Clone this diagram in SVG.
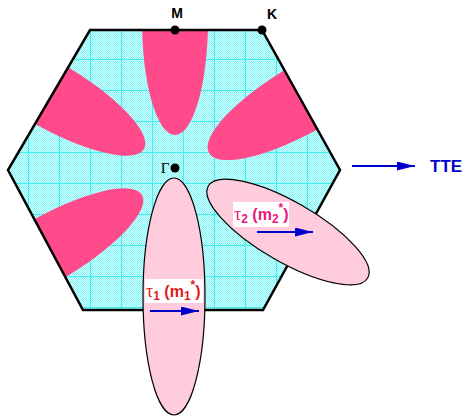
<svg xmlns="http://www.w3.org/2000/svg" width="465" height="417" viewBox="0 0 465 417">
<style>
.lobe{fill:#ff4b8b}
.pocket{fill:#ffccdd;stroke:#000;stroke-width:1.2}
.lbl{font-family:"Liberation Sans",Arial,sans-serif;font-weight:bold}
.sym{font-family:"Liberation Serif","Times New Roman",serif;font-weight:normal}
.arr{stroke:#0000cc;stroke-width:2;fill:none}
.box{fill:#fff}
</style>
<defs>
<pattern id="dots" width="2" height="2" patternUnits="userSpaceOnUse">
<rect width="2" height="2" fill="#d8ffff"/>
<rect width="1" height="1" fill="#7ff5f5"/>
<rect x="1" y="1" width="1" height="1" fill="#7ff5f5"/>
</pattern>
<pattern id="grid" x="28" y="28" width="31" height="31" patternUnits="userSpaceOnUse">
<path d="M0.5 0V31M0 0.5H31" stroke="#40f0f0" stroke-width="1"/>
</pattern>
<clipPath id="hexclip"><polygon points="90,30 262,30 340,170 263,310 83,310 8,170"/></clipPath>
<marker id="ah" viewBox="0 0 10 10" refX="10" refY="5" markerWidth="18" markerHeight="9" markerUnits="userSpaceOnUse" orient="auto" preserveAspectRatio="none">
<path d="M0 0L10 5L0 10z" fill="#0000cc"/>
</marker>
</defs>

<g id="zone">
<polygon points="90,30 262,30 340,170 263,310 83,310 8,170" fill="url(#dots)"/>
<rect x="0" y="0" width="465" height="417" fill="url(#grid)" clip-path="url(#hexclip)"/>
<g clip-path="url(#hexclip)">
<ellipse class="lobe" cx="175" cy="20" rx="33" ry="115"/>
<ellipse class="lobe" cx="175" cy="20" rx="34" ry="115" transform="translate(209 153) rotate(60) translate(-175 -135)"/>
<ellipse class="lobe" cx="175" cy="20" rx="33" ry="115" transform="translate(144 149) rotate(-60) translate(-175 -135)"/>
<ellipse class="lobe" cx="175" cy="20" rx="33" ry="115" transform="translate(142 195) rotate(-120) translate(-175 -135)"/>
</g>
<polygon points="90,30 262,30 340,170 263,310 83,310 8,170" fill="none" stroke="#000" stroke-width="2.5" stroke-linejoin="miter"/>
</g>

<g id="M">
<circle cx="175" cy="30" r="4.5" fill="#000"/>
<text class="lbl" x="177" y="18" font-size="14" text-anchor="middle">M</text>
</g>
<g id="K">
<circle cx="262" cy="30" r="4.5" fill="#000"/>
<text class="lbl" x="272" y="19" font-size="14" text-anchor="middle">K</text>
</g>
<g id="Gamma">
<circle cx="175" cy="168" r="4.5" fill="#000"/>
<text class="sym" x="165" y="173" font-size="15" text-anchor="middle" font-weight="bold">Γ</text>
</g>

<g id="tau1">
<ellipse class="pocket" cx="174" cy="296.5" rx="31" ry="118.5"/>
<rect class="box" x="145" y="279" width="58" height="24"/>
<text class="lbl" x="146" y="297" font-size="16" fill="#dd1c1c"><tspan class="sym" font-size="18">τ</tspan><tspan dy="3" font-size="12">1</tspan><tspan dy="-3"> (m</tspan><tspan dy="3" font-size="12">1</tspan><tspan dy="-11" font-size="12">*</tspan><tspan dy="8">)</tspan></text>
</g>

<g id="tau2">
<ellipse class="pocket" cx="288" cy="232" rx="92" ry="30" transform="rotate(30 288 232)"/>
<rect class="box" x="233" y="202" width="56" height="25"/>
<text class="lbl" x="234" y="220" font-size="16" fill="#e8177d"><tspan class="sym" font-size="18">τ</tspan><tspan dy="3" font-size="12">2</tspan><tspan dy="-3"> (m</tspan><tspan dy="3" font-size="12">2</tspan><tspan dy="-11" font-size="12">*</tspan><tspan dy="8">)</tspan></text>
</g>

<g id="connectors">
<line class="arr" x1="150" y1="311" x2="199" y2="311" marker-end="url(#ah)"/>
<line class="arr" x1="257" y1="232" x2="313" y2="232" marker-end="url(#ah)"/>
<line class="arr" x1="352" y1="166" x2="415" y2="166" marker-end="url(#ah)"/>
</g>

<g id="TTE">
<text class="lbl" x="430" y="172" font-size="17" fill="#0000cc">TTE</text>
</g>
</svg>
